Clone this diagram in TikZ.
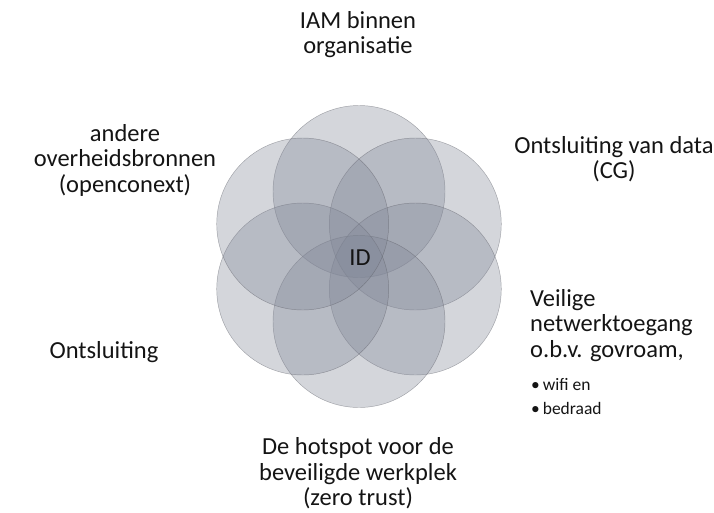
\documentclass[tikz,border=0pt]{standalone}
\usepackage{fontspec}
\setmainfont{Carlito}
\usetikzlibrary{calc}
\begin{document}
\begin{tikzpicture}[x=1pt,y=-1pt,
  petal/.style={circle,minimum size=172pt,inner sep=0pt,
    fill={rgb,255:red,128;green,134;blue,150},fill opacity=0.34,
    draw={rgb,255:red,90;green,92;blue,100},draw opacity=0.5,line width=0.45pt},
  lbl/.style={align=center,font=\fontsize{24.5}{25.5}\selectfont,inner sep=0pt,text={rgb,255:red,20;green,20;blue,20}},
  small/.style={font=\fontsize{17.5}{20}\selectfont,inner sep=0pt,anchor=west,text={rgb,255:red,20;green,20;blue,20}}]
\useasboundingbox (0,0) rectangle (714,512);
\coordinate (c) at (359,256.5);
% six overlapping petals around the centre
\foreach \n/\a in {p1/90,p2/30,p3/-30,p4/-90,p5/-150,p6/150}
  \node[petal] (\n) at ($(c)+(\a:65 and -65)$) {};
\node[lbl] (id) at (360,258) {ID};
% labels around the flower
\node[lbl] (t1) at (358,34.5) {IAM binnen\\organisatie};
\node[lbl] (t2) at (614,159) {Ontsluiting van data\\(CG)};
\node[lbl,align=left,anchor=west] (t3) at (530,325.5) {Veilige\\netwerktoegang\\o.b.v. govroam,};
\node[small] (b1) at (531,385) {\textbullet\,wifi en};
\node[small] (b2) at (531,408) {\textbullet\,bedraad};
\node[lbl] (t4) at (358,473.5) {De hotspot voor de\\beveiligde werkplek\\(zero trust)};
\node[lbl] (t5) at (104,352) {Ontsluiting};
\node[lbl] (t6) at (125,160) {andere\\overheidsbronnen\\(openconext)};
\end{tikzpicture}
\end{document}
